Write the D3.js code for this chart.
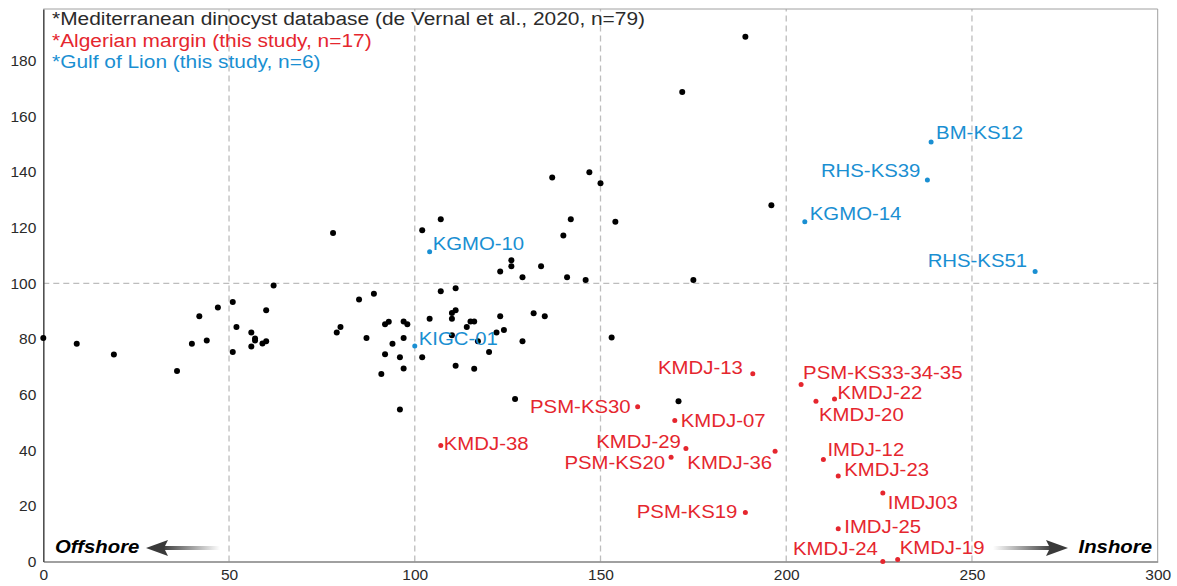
<!DOCTYPE html>
<html>
<head>
<meta charset="utf-8">
<script src="https://cdnjs.cloudflare.com/ajax/libs/d3/7.8.5/d3.min.js"></script>
<style>
	body { margin: 0; background: #fff; }
	#chart text { font-family: "Liberation Sans", Arial, sans-serif; }
</style>
</head>
<body>
<div id="chart"></div>
<script>
// Mediterranean dinocyst database (de Vernal et al., 2020), n=79
let db_x = [0, 9, 19, 36, 40, 42, 44, 47, 51, 52, 51, 56, 56, 57, 57, 59, 60, 60, 62,
	79, 80, 85, 89, 87, 92, 93, 94, 92, 91, 96, 97, 97, 97, 98, 96, 102, 104, 107,
	78, 102, 107, 123, 126, 126, 129, 134, 140, 142, 141, 111, 110, 111, 110, 115, 116, 114,
	123, 132, 135, 122, 124, 110, 117, 129, 120, 111, 116, 127,
	153, 171, 189, 172, 137, 147, 150, 196, 154, 146, 175];
let db_y = [80.3, 78.3, 74.4, 68.5, 78.3, 88.2, 79.4, 91.3, 93.3, 84.3, 75.3, 82.3, 77.3, 80.2, 79.4, 78.4, 79.2, 90.3, 99.2,
	82.3, 84.3, 94.2, 96.2, 80.3, 85.3, 86.2, 78.3, 74.5, 67.4, 73.4, 69.4, 80.3, 86.3, 85.3, 54.6, 73.4, 87.3, 97.1,
	118.1, 119.1, 123, 104.2, 108.3, 106.1, 102.2, 106.1, 117.2, 123, 102.2, 98.2, 89.3, 90.3, 87.3, 86.3, 86.3, 84.3,
	88.2, 89.2, 88.2, 82.3, 83.2, 81.3, 79.2, 79.2, 75.3, 70.4, 69.3, 58.4,
	80.5, 57.6, 188.6, 168.8, 138, 139.9, 136, 128.1, 122.1, 101.2, 101.2];

// Algerian margin (this study), n=17
let alg_names = ["KMDJ-13", "PSM-KS30", "KMDJ-07", "KMDJ-29", "PSM-KS20", "KMDJ-36", "PSM-KS19", "KMDJ-38",
	"PSM-KS33-34-35", "KMDJ-22", "KMDJ-20", "IMDJ-12", "KMDJ-23", "IMDJ03", "IMDJ-25", "KMDJ-24", "KMDJ-19"];
let alg_x = [191, 160, 170, 173, 169, 197, 189, 107, 204, 213, 208, 210, 214, 226, 214, 226, 230];
let alg_y = [67.5, 55.6, 50.7, 40.6, 37.5, 39.6, 17.6, 41.7, 63.6, 58.4, 57.6, 36.7, 30.7, 24.6, 11.8, 0, 0.7];

// Gulf of Lion (this study), n=6
let gol_names = ["BM-KS12", "RHS-KS39", "KGMO-14", "RHS-KS51", "KGMO-10", "KIGC-01"];
let gol_x = [239, 238, 205, 267, 104, 100];
let gol_y = [150.8, 137.1, 122.1, 104.2, 111.3, 77.5];

let x_ticks = [0, 50, 100, 150, 200, 250, 300];
let y_ticks = [0, 20, 40, 60, 80, 100, 120, 140, 160, 180];
let legend_lines = ["*Mediterranean dinocyst database (de Vernal et al., 2020, n=79)",
	"*Algerian margin (this study, n=17)",
	"*Gulf of Lion (this study, n=6)"];

// label placement: [anchor, dx, dy] in pixels from the dot
let label_pos = {
	"KMDJ-13": ["end", -10, 0], "PSM-KS30": ["end", -7, 6], "KMDJ-07": ["start", 6, 7],
	"KMDJ-29": ["end", -5, -1], "PSM-KS20": ["end", -6, 12], "KMDJ-36": ["end", -3, 18],
	"PSM-KS19": ["end", -8, 5], "KMDJ-38": ["start", 3, 5], "PSM-KS33-34-35": ["start", 2, -6],
	"KMDJ-22": ["start", 3, 0], "KMDJ-20": ["start", 3, 20], "IMDJ-12": ["start", 4, -3],
	"KMDJ-23": ["start", 6, 0], "IMDJ03": ["start", 5, 16], "IMDJ-25": ["start", 6, 4],
	"KMDJ-24": ["end", -5, -7], "KMDJ-19": ["start", 2, -6],
	"BM-KS12": ["start", 5, -3], "RHS-KS39": ["end", -7, -3], "KGMO-14": ["start", 5, -2],
	"RHS-KS51": ["end", -8, -5], "KGMO-10": ["start", 3, -2], "KIGC-01": ["start", 4, -1]
};

function chart() {
	let container = "#chart",
		window_w = 1177,
		window_h = 586;

	let red = "#e5262e",
		blue = "#1a8fd2",
		sx = 1.1;

	let svg = d3.select(container)
		.append("svg")
		.attr("width", window_w)
		.attr("height", window_h);

	let x = d3.scaleLinear()
		.domain([0, 300])
		.range([43.3, 1157.7]);

	let y = d3.scaleLinear()
		.domain([0, 198.6])
		.range([561.5, 9]);

	// grid
	let grid = svg.append("g").attr("class", "grid");
	grid.selectAll("line.v")
		.data(x_ticks.filter(function(d){ return d > 0 && d < 300 }))
		.enter()
		.append("line")
		.attr("x1", function(d){ return x(d) })
		.attr("x2", function(d){ return x(d) })
		.attr("y1", y.range()[0])
		.attr("y2", y.range()[1])
		.attr("stroke", "#bdbdbd")
		.attr("stroke-width", 1.3)
		.attr("stroke-dasharray", "6,4");
	grid.append("line")
		.attr("x1", x(0))
		.attr("x2", x(300))
		.attr("y1", y(100))
		.attr("y2", y(100))
		.attr("stroke", "#bdbdbd")
		.attr("stroke-width", 1.3)
		.attr("stroke-dasharray", "6,4");

	// frame
	svg.append("line")
		.attr("x1", x(0)).attr("x2", x(300))
		.attr("y1", y.range()[1]).attr("y2", y.range()[1])
		.attr("stroke", "#a0a0a0").attr("stroke-width", 1);
	svg.append("line")
		.attr("x1", x(300)).attr("x2", x(300))
		.attr("y1", y.range()[0]).attr("y2", y.range()[1])
		.attr("stroke", "#a0a0a0").attr("stroke-width", 1);

	let x_axis = svg.append("g")
		.attr("transform", "translate(0," + y(0) + ")")
		.call(d3.axisBottom(x).tickValues(x_ticks).tickSize(0).tickPadding(7));
	x_axis.select(".domain").attr("stroke", "#808080").attr("stroke-width", 1.6);
	x_axis.selectAll("text")
		.attr("font-size", "15.5px")
		.attr("fill", "#2a2a2a");

	let y_axis = svg.append("g")
		.attr("transform", "translate(" + x(0) + ",0)")
		.call(d3.axisLeft(y).tickValues(y_ticks).tickSize(0).tickPadding(7));
	y_axis.select(".domain").attr("stroke", "#505050").attr("stroke-width", 1.6);
	y_axis.selectAll("text")
		.attr("font-size", "15.5px")
		.attr("fill", "#2a2a2a");

	// database points
	svg.append("g")
		.selectAll("circle")
		.data(db_x)
		.enter()
		.append("circle")
		.attr("cx", function(d){ return x(d) })
		.attr("cy", function(d,i){ return y(db_y[i]) })
		.attr("r", 3)
		.attr("fill", "#000");

	function group(names, xs, ys, color) {
		let g = svg.append("g")
			.selectAll("g")
			.data(names)
			.enter()
			.append("g")
			.attr("transform", function(d,i){
				return "translate(" + x(xs[i]) + "," + y(ys[i]) + ")"
			});
		g.append("circle")
			.attr("r", 2.5)
			.attr("fill", color);
		g.append("text")
			.text(function(d){ return d })
			.attr("transform", function(d){
				let p = label_pos[d];
				return "translate(" + p[1] + "," + p[2] + ") scale(" + sx + ",1)"
			})
			.attr("text-anchor", function(d){ return label_pos[d][0] })
			.attr("font-size", "18.5px")
			.attr("fill", color);
	}
	group(alg_names, alg_x, alg_y, red);
	group(gol_names, gol_x, gol_y, blue);

	// legend
	let legend_colors = ["#2b2b2b", red, blue];
	svg.append("g")
		.selectAll("text")
		.data(legend_lines)
		.enter()
		.append("text")
		.text(function(d){ return d })
		.attr("transform", function(d,i){
			return "translate(52," + (25 + i * 21.5) + ") scale(" + sx + ",1)"
		})
		.attr("font-size", "19px")
		.attr("fill", function(d,i){ return legend_colors[i] });

	// arrows
	let defs = svg.append("defs");
	let g_off = defs.append("linearGradient").attr("id", "g_off")
		.attr("x1", "0%").attr("x2", "100%");
	g_off.append("stop").attr("offset", "0%").attr("stop-color", "#3a3a3a");
	g_off.append("stop").attr("offset", "100%").attr("stop-color", "#ffffff");
	let g_in = defs.append("linearGradient").attr("id", "g_in")
		.attr("x1", "0%").attr("x2", "100%");
	g_in.append("stop").attr("offset", "0%").attr("stop-color", "#ffffff");
	g_in.append("stop").attr("offset", "100%").attr("stop-color", "#3a3a3a");

	let ay = 548;
	svg.append("rect")
		.attr("x", 162).attr("y", ay - 2)
		.attr("width", 58).attr("height", 4)
		.attr("fill", "url(#g_off)");
	svg.append("path")
		.attr("d", "M146," + ay + " L168," + (ay - 8) + " L164," + ay + " L168," + (ay + 8) + " Z")
		.attr("fill", "#3a3a3a");

	svg.append("rect")
		.attr("x", 993).attr("y", ay - 2)
		.attr("width", 60).attr("height", 4)
		.attr("fill", "url(#g_in)");
	svg.append("path")
		.attr("d", "M1068," + ay + " L1046," + (ay - 8) + " L1050," + ay + " L1046," + (ay + 8) + " Z")
		.attr("fill", "#3a3a3a");

	svg.append("text")
		.text("Offshore")
		.attr("transform", "translate(55,553) scale(" + sx + ",1)")
		.attr("font-size", "18.5px")
		.attr("font-weight", "bold")
		.attr("font-style", "italic")
		.attr("fill", "#000");
	svg.append("text")
		.text("Inshore")
		.attr("transform", "translate(1152,553) scale(" + sx + ",1)")
		.attr("text-anchor", "end")
		.attr("font-size", "18.5px")
		.attr("font-weight", "bold")
		.attr("font-style", "italic")
		.attr("fill", "#000");
}

chart();
</script>
</body>
</html>
